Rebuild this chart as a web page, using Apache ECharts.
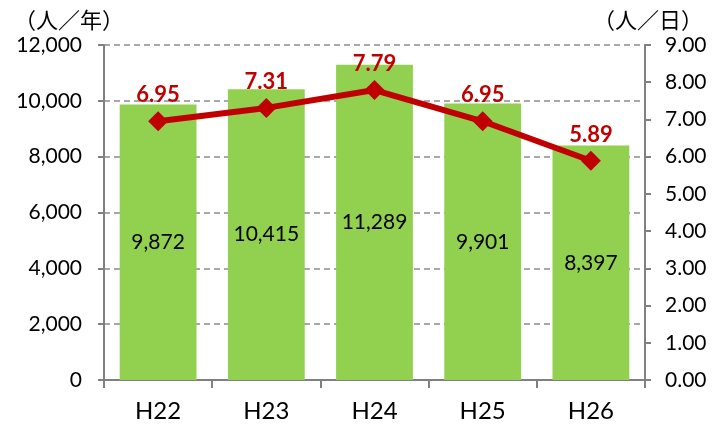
<!DOCTYPE html>
<html>
<head>
<meta charset="utf-8">
<script src="https://cdn.jsdelivr.net/npm/echarts@6/dist/echarts.min.js"></script>
<style>
  html, body { margin: 0; padding: 0; background: #fff; }
  #chart { width: 712px; height: 432px; }
</style>
</head>
<body>
<div id="chart"></div>
<script>
var years = ['H22', 'H23', 'H24', 'H25', 'H26'];
var perYear = [9872, 10415, 11289, 9901, 8397];
var perDay = [6.95, 7.31, 7.79, 6.95, 5.89];

var font = 'Lato, "Noto Sans CJK JP", sans-serif';
var jpFont = '"Noto Sans CJK JP", sans-serif';

var myChart = echarts.init(document.getElementById('chart'));

var option = {
  animation: false,
  textStyle: { fontFamily: font },
  grid: { left: 104, right: 67, top: 45, bottom: 52 },
  xAxis: [
    {
      type: 'category',
      data: years,
      axisLine: { lineStyle: { color: '#808080', width: 2 } },
      axisTick: { show: true, length: 8, lineStyle: { color: '#808080', width: 2 } },
      axisLabel: { color: '#000', fontSize: 24, margin: 19 }
    }
  ],
  yAxis: [
    {
      type: 'value',
      name: '（人／年）',
      nameLocation: 'end',
      nameGap: 14,
      nameTextStyle: { color: '#000', fontFamily: jpFont, fontSize: 22, align: 'center', padding: [0, 70, 0, 0] },
      min: 0,
      max: 12000,
      interval: 2000,
      axisLine: { show: true, lineStyle: { color: '#808080', width: 2 } },
      axisTick: { show: true, length: 6, lineStyle: { color: '#808080', width: 2 } },
      axisLabel: {
        color: '#000', fontSize: 21, margin: 22,
        formatter: function (v) { return v.toLocaleString('en-US'); }
      },
      splitLine: { show: true, lineStyle: { color: '#8c8c8c', type: [6, 4], width: 1.5 } }
    },
    {
      type: 'value',
      name: '（人／日）',
      nameLocation: 'end',
      nameGap: 14,
      nameTextStyle: { color: '#000', fontFamily: jpFont, fontSize: 22, align: 'center', padding: [0, 0, 0, 6] },
      min: 0,
      max: 9,
      interval: 1,
      axisLine: { show: true, lineStyle: { color: '#808080', width: 2 } },
      axisTick: { show: true, length: 6, lineStyle: { color: '#808080', width: 2 } },
      axisLabel: {
        color: '#000', fontSize: 21, margin: 20,
        formatter: function (v) { return v.toFixed(2); }
      },
      splitLine: { show: false }
    }
  ],
  series: [
    {
      name: 'perYear',
      type: 'bar',
      data: perYear,
      barWidth: '71%',
      itemStyle: { color: '#92D050' },
      label: {
        show: true,
        position: 'inside',
        color: '#000',
        fontSize: 21,
        formatter: function (p) { return p.value.toLocaleString('en-US'); }
      },
      z: 2
    },
    {
      name: 'perDay',
      type: 'line',
      yAxisIndex: 1,
      data: perDay,
      symbol: 'diamond',
      symbolSize: 20,
      lineStyle: { color: '#C00000', width: 6 },
      itemStyle: { color: '#C00000' },
      label: {
        show: true,
        position: 'top',
        distance: 5,
        color: '#C00000',
        fontSize: 22,
        fontWeight: 'bold',
        formatter: function (p) { return p.value.toFixed(2); }
      },
      z: 5
    }
  ]
};

myChart.setOption(option);
</script>
</body>
</html>
